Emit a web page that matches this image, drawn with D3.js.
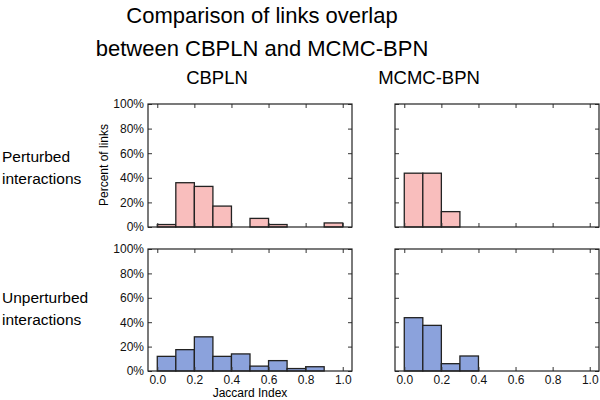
<!DOCTYPE html>
<html><head><meta charset="utf-8">
<script src="https://cdn.jsdelivr.net/npm/d3@7"></script>
<style>body{margin:0;background:#fff}svg{display:block}text{font-family:"Liberation Sans",Arial,sans-serif}</style>
</head><body>
<script>
const binEdges = [0,0.1,0.2,0.3,0.4,0.5,0.6,0.7,0.8,0.9,1.0];
const xTicks = [0,0.2,0.4,0.6,0.8,1.0];
const yTicks = [0,20,40,60,80,100];
const columns = ["CBPLN","MCMC-BPN"];
const rows = ["Perturbed interactions","Unperturbed interactions"];
const cbplnPerturbed   = [2,36,33,17,0,7,2,0,0,3.3];
const mcmcPerturbed    = [43.75,43.75,12.5,0,0,0,0,0,0,0];
const cbplnUnperturbed = [12,17.5,28,12,14,4,8.5,2,3.5,0];
const mcmcUnperturbed  = [43.7,37.4,6,12.3,0,0,0,0,0,0];
const title = ["Comparison of links overlap","between CBPLN and MCMC-BPN"];

const W=600,H=400;
const svg=d3.select("body").append("svg").attr("width",W).attr("height",H);
const colX=[[148,352],[395,599]];
const rowY=[[104,227],[249,371]];
const fills=["#f9bebd","#8ba2dc"];
const panels=[
 {r:0,c:0,data:cbplnPerturbed},{r:0,c:1,data:mcmcPerturbed},
 {r:1,c:0,data:cbplnUnperturbed},{r:1,c:1,data:mcmcUnperturbed}];

svg.selectAll(".title").data(title).enter().append("text")
 .attr("x",262).attr("y",(d,i)=>23+i*33).attr("text-anchor","middle")
 .attr("font-size",22).attr("fill","#000").text(d=>d);
const headX=[217,429];
columns.forEach((t,i)=>svg.append("text").attr("x",headX[i]).attr("y",84)
 .attr("text-anchor","middle").attr("font-size",18.5).text(t));
const rowBase=[162,303];
rows.forEach((t,i)=>{
 const w=t.split(" ");
 w.forEach((s,j)=>svg.append("text").attr("x",2).attr("y",rowBase[i]+j*22)
  .attr("font-size",15.5).text(s));
});

panels.forEach(p=>{
 const [x0,x1]=colX[p.c],[y0,y1]=rowY[p.r];
 const x=d3.scaleLinear().domain([-0.05,1.05]).range([x0,x1]);
 const y=d3.scaleLinear().domain([0,100]).range([y1,y0]);
 const g=svg.append("g");
 const bins=p.data.map((v,i)=>({a:binEdges[i],b:binEdges[i+1],v})).filter(d=>d.v>0);
 g.selectAll("rect").data(bins).enter().append("rect")
  .attr("x",d=>x(d.a)).attr("width",d=>x(d.b)-x(d.a))
  .attr("y",d=>y(d.v)).attr("height",d=>y(0)-y(d.v))
  .attr("fill",fills[p.r]).attr("stroke","#222").attr("stroke-width",1.3);
 const fmtY=d=>d+"%";
 const ax=(gen,tr,lab)=>{
  const a=g.append("g").attr("transform",tr).call(gen);
  a.select(".domain").remove();
  a.selectAll("line").attr("stroke","#333");
  a.selectAll("text").attr("font-size",12).attr("fill","#111")
   .attr("font-family","'DejaVu Sans',sans-serif");
  if(!lab) a.selectAll("text").remove();
  return a;
 };
 ax(d3.axisBottom(x).tickValues(xTicks).tickSizeInner(-4).tickSizeOuter(0).tickPadding(4).tickFormat(d3.format(".1f")),`translate(0,${y1})`,p.r===1);
 ax(d3.axisTop(x).tickValues(xTicks).tickSizeInner(-4).tickSizeOuter(0),`translate(0,${y0})`,false);
 ax(d3.axisLeft(y).tickValues(yTicks).tickSizeInner(-4).tickSizeOuter(0).tickPadding(4).tickFormat(fmtY),`translate(${x0},0)`,p.c===0);
 ax(d3.axisRight(y).tickValues(yTicks).tickSizeInner(-4).tickSizeOuter(0),`translate(${x1},0)`,false);
 g.append("rect").attr("x",x0).attr("y",y0).attr("width",x1-x0).attr("height",y1-y0)
  .attr("fill","none").attr("stroke","#222").attr("stroke-width",1.2);
});
svg.append("text").attr("transform","translate(108,165) rotate(-90)")
 .attr("text-anchor","middle").attr("font-size",12).attr("font-family","'DejaVu Sans',sans-serif").text("Percent of links");
svg.append("text").attr("x",250).attr("y",397).attr("text-anchor","middle")
 .attr("font-size",12).attr("font-family","'DejaVu Sans',sans-serif").text("Jaccard Index");
</script>
</body></html>
